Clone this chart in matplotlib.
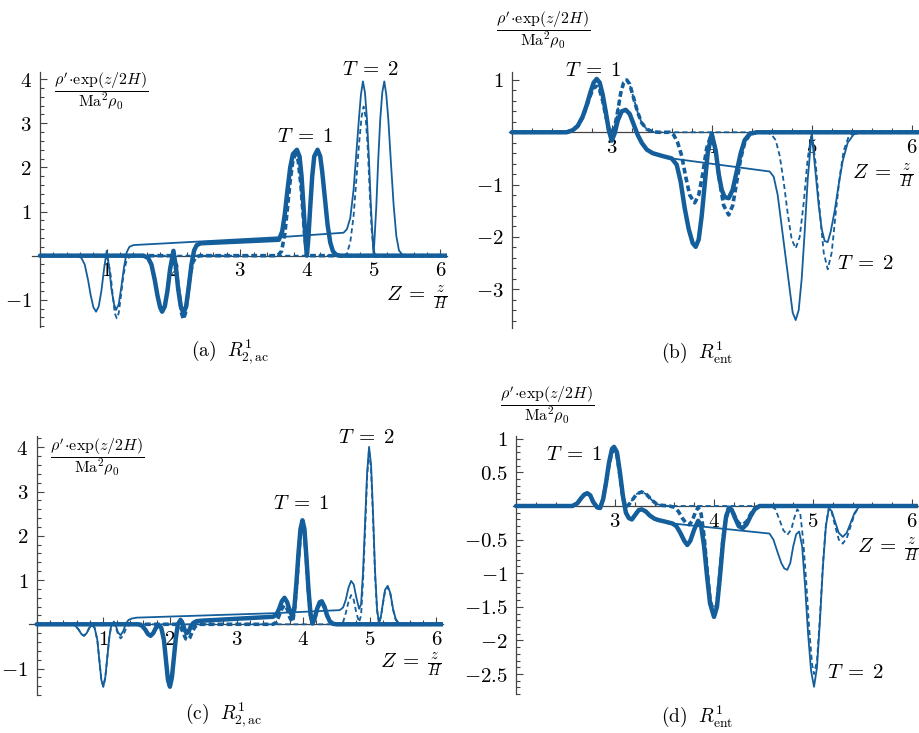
import matplotlib
matplotlib.use("Agg")
import matplotlib.pyplot as plt
from matplotlib.ticker import MultipleLocator

plt.rcParams['mathtext.fontset'] = 'cm'
plt.rcParams['font.family'] = 'serif'

blue = '#135e9b'

# ---- (a) R^1_{2,ac}, packets moving up ----
a_t1 = [(0, 0), (1.55, 0), (1.62, -0.05), (1.67, -0.2), (1.72, -0.55), (1.76, -0.9), (1.80, -1.17), (1.83, -1.27),
        (1.87, -1.15), (1.91, -0.8), (1.95, -0.3), (2.00, 0.11), (2.04, -0.3), (2.07, -0.75), (2.11, -1.15),
        (2.15, -1.31), (2.19, -1.15), (2.23, -0.7), (2.27, -0.2), (2.31, 0.12), (2.35, 0.24), (2.41, 0.28),
        (3.58, 0.36), (3.63, 0.55), (3.67, 0.95), (3.71, 1.5), (3.75, 2.0), (3.79, 2.3), (3.85, 2.4), (3.89, 2.25),
        (3.92, 1.8), (3.95, 1.1), (3.98, 0.35), (4.00, 0.0), (4.02, 0.35), (4.05, 1.1), (4.08, 1.8), (4.11, 2.25),
        (4.16, 2.4), (4.20, 2.25), (4.23, 1.9), (4.27, 1.3), (4.31, 0.7), (4.35, 0.3), (4.39, 0.1), (4.44, 0.02),
        (4.50, 0), (6.10, 0)]
a_t1w = [(0, 0), (1.97, 0), (2.01, -0.1), (2.05, -0.45), (2.09, -0.9), (2.12, -1.3), (2.15, -1.44), (2.18, -1.3),
         (2.21, -0.95), (2.25, -0.45), (2.29, -0.15), (2.34, -0.03), (2.40, 0), (3.56, 0), (3.62, 0.1), (3.67, 0.5),
         (3.71, 1.1), (3.75, 1.7), (3.79, 2.15), (3.83, 2.3), (3.87, 2.15), (3.91, 1.6), (3.94, 1.0), (3.97, 0.4),
         (4.00, 0.08), (4.03, 0), (6.10, 0)]
a_t2 = [(0, 0), (0.55, 0), (0.62, -0.05), (0.67, -0.2), (0.72, -0.55), (0.76, -0.9), (0.80, -1.17), (0.84, -1.27),
        (0.88, -1.15), (0.92, -0.8), (0.96, -0.3), (1.00, 0.11), (1.04, -0.3), (1.07, -0.75), (1.11, -1.1),
        (1.14, -1.23), (1.18, -1.1), (1.22, -0.7), (1.26, -0.25), (1.30, 0.08), (1.34, 0.2), (1.40, 0.24),
        (3.60, 0.42), (4.55, 0.52), (4.60, 0.6), (4.65, 0.85), (4.70, 1.5), (4.74, 2.3), (4.78, 3.1), (4.81, 3.65),
        (4.84, 3.95), (4.87, 3.7), (4.90, 3.1), (4.93, 2.2), (4.96, 1.1), (5.00, 0.0), (5.04, 1.1), (5.07, 2.2),
        (5.10, 3.1), (5.13, 3.7), (5.16, 3.95), (5.19, 3.65), (5.22, 3.1), (5.26, 2.1), (5.30, 1.15), (5.34, 0.45),
        (5.38, 0.12), (5.43, 0.02), (5.50, 0), (6.10, 0)]
a_t2w = [(0, 0), (0.98, 0), (1.02, -0.1), (1.06, -0.45), (1.09, -0.9), (1.12, -1.3), (1.15, -1.42), (1.18, -1.3),
         (1.21, -0.95), (1.25, -0.45), (1.29, -0.15), (1.34, -0.03), (1.40, 0), (4.55, 0), (4.60, 0.05), (4.65, 0.3),
         (4.70, 0.9), (4.74, 1.7), (4.78, 2.5), (4.82, 3.15), (4.85, 3.38), (4.88, 3.15), (4.91, 2.5), (4.94, 1.5),
         (4.97, 0.6), (5.00, 0.12), (5.03, 0), (6.10, 0)]

# ---- (b) R^1_ent ----
b_front = [(2.0, 0), (2.55, 0), (2.61, 0.04), (2.66, 0.12), (2.71, 0.3), (2.75, 0.52), (2.79, 0.78), (2.82, 0.95),
           (2.85, 1.02), (2.88, 0.95), (2.91, 0.72), (2.94, 0.4), (2.97, 0.05), (3.00, -0.16), (3.03, -0.02),
           (3.06, 0.22), (3.10, 0.4), (3.14, 0.43), (3.18, 0.35), (3.22, 0.15), (3.26, -0.05), (3.30, -0.2),
           (3.35, -0.33), (3.41, -0.4), (3.50, -0.45), (3.60, -0.5)]
b_t1 = b_front + [(3.65, -0.62), (3.69, -0.95), (3.73, -1.45), (3.77, -1.85), (3.81, -2.12), (3.84, -2.19),
                  (3.87, -2.05), (3.90, -1.6), (3.93, -1.0), (3.96, -0.4), (4.00, -0.03), (4.04, -0.35), (4.07, -0.8),
                  (4.10, -1.1), (4.13, -1.24), (4.17, -1.26), (4.21, -1.1), (4.25, -0.75), (4.29, -0.4),
                  (4.33, -0.15), (4.38, -0.03), (4.45, 0), (6.08, 0)]
b_t2 = b_front + [(4.58, -0.75), (4.62, -0.85), (4.66, -1.2), (4.70, -1.8), (4.74, -2.4), (4.78, -3.0), (4.81, -3.45),
                  (4.84, -3.59), (4.87, -3.4), (4.90, -2.8), (4.93, -1.9), (4.96, -0.9), (5.00, -0.02), (5.04, -0.8),
                  (5.07, -1.4), (5.10, -1.85), (5.13, -2.08), (5.16, -2.1), (5.19, -1.9), (5.23, -1.5), (5.27, -1.0),
                  (5.31, -0.55), (5.36, -0.2), (5.42, -0.04), (5.50, 0), (6.08, 0)]
b_front_w = [(2.0, 0), (2.55, 0), (2.61, 0.04), (2.66, 0.12), (2.71, 0.28), (2.75, 0.5), (2.79, 0.72), (2.82, 0.85),
             (2.85, 0.88), (2.88, 0.8), (2.91, 0.6), (2.94, 0.32), (2.97, 0.08), (3.00, 0.0), (3.03, 0.1), (3.06, 0.4),
             (3.09, 0.75), (3.12, 0.95), (3.15, 1.0), (3.18, 0.92), (3.22, 0.65), (3.26, 0.38), (3.30, 0.18),
             (3.35, 0.06), (3.41, 0.01), (3.47, 0)]
b_t1w = b_front_w + [(3.58, 0), (3.62, -0.05), (3.66, -0.2), (3.70, -0.45), (3.74, -0.85), (3.78, -1.2), (3.83, -1.35),
                     (3.87, -1.2), (3.91, -0.8), (3.95, -0.3), (4.00, -0.02), (4.04, -0.35), (4.08, -0.95),
                     (4.12, -1.4), (4.17, -1.58), (4.21, -1.4), (4.25, -0.95), (4.29, -0.5), (4.33, -0.2),
                     (4.38, -0.04), (4.45, 0), (6.08, 0)]
b_t2w = b_front_w + [(4.55, 0), (4.60, -0.05), (4.64, -0.15), (4.68, -0.45), (4.72, -0.95), (4.76, -1.55),
                     (4.80, -2.05), (4.84, -2.22), (4.88, -2.0), (4.92, -1.35), (4.96, -0.5), (5.00, -0.02),
                     (5.04, -0.6), (5.08, -1.5), (5.12, -2.3), (5.16, -2.62), (5.20, -2.3), (5.24, -1.55),
                     (5.28, -0.85), (5.32, -0.35), (5.37, -0.08), (5.43, 0), (6.08, 0)]

# ---- (c) R^1_{2,ac}, second case ----
c_t1 = [(0, 0), (1.52, 0), (1.58, -0.03), (1.63, -0.12), (1.67, -0.22), (1.71, -0.26), (1.75, -0.2), (1.79, -0.08),
        (1.83, -0.02), (1.87, -0.08), (1.91, -0.35), (1.94, -0.8), (1.97, -1.25), (2.00, -1.41), (2.03, -1.2),
        (2.06, -0.75), (2.09, -0.3), (2.12, 0.0), (2.16, 0.1), (2.19, 0.02), (2.22, -0.12), (2.25, -0.2),
        (2.28, -0.17), (2.31, -0.06), (2.35, 0.03), (2.40, 0.07), (2.46, 0.08), (3.55, 0.17), (3.60, 0.22),
        (3.64, 0.35), (3.68, 0.52), (3.72, 0.6), (3.76, 0.5), (3.80, 0.3), (3.84, 0.18), (3.87, 0.4), (3.90, 0.95),
        (3.93, 1.6), (3.96, 2.15), (3.99, 2.35), (4.02, 2.15), (4.05, 1.5), (4.08, 0.8), (4.11, 0.25), (4.14, 0.02),
        (4.17, 0.12), (4.21, 0.35), (4.25, 0.5), (4.28, 0.52), (4.32, 0.4), (4.36, 0.2), (4.40, 0.07), (4.45, 0.01),
        (4.50, 0), (6.10, 0)]
c_t1w = [(0, 0), (2.12, 0), (2.16, -0.05), (2.20, -0.2), (2.24, -0.33), (2.27, -0.35), (2.30, -0.3), (2.34, -0.15),
         (2.38, -0.05), (2.43, 0), (3.55, 0), (3.60, 0.05), (3.64, 0.2), (3.68, 0.35), (3.72, 0.43), (3.76, 0.35),
         (3.80, 0.15), (3.84, 0.05), (3.87, 0.3), (3.90, 0.85), (3.93, 1.5), (3.96, 2.05), (3.99, 2.3), (4.02, 2.1),
         (4.05, 1.45), (4.08, 0.75), (4.11, 0.2), (4.14, 0.02), (4.17, 0.1), (4.21, 0.33), (4.25, 0.48), (4.28, 0.5),
         (4.32, 0.38), (4.36, 0.19), (4.40, 0.06), (4.45, 0.01), (4.50, 0), (6.10, 0)]
c_front = [(0, 0), (0.52, 0), (0.58, -0.03), (0.63, -0.12), (0.67, -0.22), (0.71, -0.26), (0.75, -0.2), (0.79, -0.08),
           (0.83, -0.02), (0.87, -0.08), (0.91, -0.35), (0.94, -0.8), (0.97, -1.25), (1.00, -1.41), (1.03, -1.2),
           (1.06, -0.75), (1.09, -0.3), (1.12, -0.02)]
c_t2 = c_front + [(1.16, 0.06), (1.19, -0.04), (1.22, -0.18), (1.26, -0.25), (1.30, -0.15), (1.34, 0.02), (1.38, 0.1),
                  (1.43, 0.13), (1.50, 0.15), (3.55, 0.25), (4.55, 0.32), (4.60, 0.38), (4.64, 0.55), (4.68, 0.82),
                  (4.72, 0.98), (4.76, 0.9), (4.80, 0.6), (4.84, 0.35), (4.87, 0.45), (4.90, 1.2), (4.93, 2.3),
                  (4.96, 3.4), (4.99, 4.01), (5.02, 3.6), (5.05, 2.5), (5.08, 1.2), (5.11, 0.35), (5.14, 0.02),
                  (5.17, 0.2), (5.20, 0.5), (5.23, 0.78), (5.27, 0.87), (5.31, 0.7), (5.35, 0.35), (5.39, 0.12),
                  (5.44, 0.02), (5.50, 0), (6.10, 0)]
c_t2w = c_front + [(1.16, 0.0), (1.19, -0.08), (1.22, -0.22), (1.26, -0.32), (1.30, -0.25), (1.34, -0.1),
                   (1.38, -0.02), (1.43, 0), (4.55, 0), (4.60, 0.05), (4.64, 0.25), (4.68, 0.5), (4.72, 0.66),
                   (4.76, 0.55), (4.80, 0.25), (4.84, 0.05), (4.87, 0.2), (4.90, 1.0), (4.93, 2.1), (4.96, 3.3),
                   (4.99, 3.95), (5.02, 3.5), (5.05, 2.4), (5.08, 1.1), (5.11, 0.3), (5.14, 0.02), (5.17, 0.18),
                   (5.20, 0.48), (5.23, 0.75), (5.27, 0.84), (5.31, 0.68), (5.35, 0.33), (5.39, 0.1), (5.44, 0.01),
                   (5.50, 0), (6.10, 0)]

# ---- (d) R^1_ent, second case ----
d_front = [(2.0, 0), (2.57, 0), (2.62, 0.04), (2.66, 0.12), (2.69, 0.17), (2.72, 0.19), (2.75, 0.16), (2.78, 0.06),
           (2.82, -0.02), (2.85, -0.03), (2.88, 0.1), (2.91, 0.35), (2.94, 0.65), (2.97, 0.85), (2.99, 0.88),
           (3.02, 0.8), (3.05, 0.5), (3.08, 0.15), (3.11, -0.1), (3.14, -0.18), (3.17, -0.2), (3.21, -0.12),
           (3.24, -0.06), (3.27, -0.05), (3.31, -0.08), (3.35, -0.14), (3.40, -0.19), (3.44, -0.21), (3.50, -0.23),
           (3.58, -0.26)]
d_t1 = d_front + [(3.62, -0.3), (3.66, -0.4), (3.70, -0.52), (3.73, -0.58), (3.76, -0.52), (3.80, -0.35),
                  (3.84, -0.22), (3.87, -0.3), (3.90, -0.6), (3.93, -1.05), (3.96, -1.45), (4.00, -1.65),
                  (4.03, -1.5), (4.06, -1.05), (4.09, -0.55), (4.12, -0.18), (4.15, -0.03), (4.18, -0.06),
                  (4.21, -0.17), (4.25, -0.3), (4.29, -0.33), (4.33, -0.27), (4.37, -0.15), (4.41, -0.05),
                  (4.46, 0), (6.06, 0)]
d_t2 = d_front + [(4.56, -0.41), (4.60, -0.5), (4.64, -0.68), (4.68, -0.85), (4.71, -0.93), (4.74, -0.95),
                  (4.77, -0.85), (4.80, -0.6), (4.83, -0.42), (4.86, -0.38), (4.89, -0.6), (4.92, -1.2), (4.95, -1.9),
                  (4.98, -2.45), (5.01, -2.69), (5.04, -2.4), (5.07, -1.7), (5.10, -0.9), (5.13, -0.3), (5.16, -0.03),
                  (5.19, -0.08), (5.22, -0.22), (5.26, -0.4), (5.30, -0.46), (5.34, -0.4), (5.38, -0.25),
                  (5.42, -0.1), (5.46, -0.02), (5.50, 0), (6.06, 0)]
d_front_w = [(2.0, 0), (2.57, 0), (2.62, 0.04), (2.66, 0.12), (2.69, 0.17), (2.72, 0.19), (2.75, 0.16), (2.78, 0.06),
             (2.82, -0.02), (2.85, -0.03), (2.88, 0.1), (2.91, 0.35), (2.94, 0.62), (2.97, 0.8), (2.99, 0.84),
             (3.02, 0.75), (3.05, 0.45), (3.08, 0.12), (3.11, -0.01), (3.14, 0.02), (3.18, 0.1), (3.22, 0.18),
             (3.27, 0.21), (3.32, 0.17), (3.37, 0.09), (3.42, 0.03), (3.47, 0.01), (3.55, 0)]
d_t1w = d_front_w + [(3.60, -0.02), (3.64, -0.08), (3.68, -0.18), (3.72, -0.26), (3.75, -0.28), (3.78, -0.22),
                     (3.81, -0.1), (3.84, -0.02), (3.87, -0.12), (3.90, -0.45), (3.93, -0.95), (3.96, -1.4),
                     (4.00, -1.6), (4.03, -1.45), (4.06, -1.0), (4.09, -0.5), (4.12, -0.15), (4.15, -0.02),
                     (4.18, -0.05), (4.21, -0.15), (4.25, -0.26), (4.29, -0.28), (4.33, -0.23), (4.37, -0.12),
                     (4.41, -0.04), (4.46, 0), (6.06, 0)]
d_t2w = d_front_w + [(4.58, 0), (4.62, -0.05), (4.66, -0.2), (4.70, -0.36), (4.74, -0.43), (4.78, -0.35),
                     (4.81, -0.18), (4.84, -0.05), (4.87, -0.1), (4.90, -0.5), (4.93, -1.1), (4.96, -1.8),
                     (4.99, -2.35), (5.01, -2.5), (5.04, -2.3), (5.07, -1.65), (5.10, -0.85), (5.13, -0.28),
                     (5.16, -0.03), (5.19, -0.1), (5.22, -0.28), (5.26, -0.5), (5.30, -0.56), (5.34, -0.48),
                     (5.38, -0.3), (5.42, -0.12), (5.46, -0.02), (5.50, 0), (6.06, 0)]

# ticks
x_ticks_full = [1, 2, 3, 4, 5, 6]
x_ticks_half = [3, 4, 5, 6]
y_ticks_ac = [-1, 1, 2, 3, 4]
y_ticks_b = [-3, -2, -1, 1]
y_ticks_d = [-2.5, -2, -1.5, -1, -0.5, 0.5, 1]
y_labels_d = ['$-2.5$', '$-2$', '$-1.5$', '$-1$', '$-0.5$', '$0.5$', '$1$']

captions = [r'$\mathrm{(a)}\ \ R^1_{2,\mathrm{ac}}$', r'$\mathrm{(b)}\ \ R^1_{\mathrm{ent}}$',
            r'$\mathrm{(c)}\ \ R^1_{2,\mathrm{ac}}$', r'$\mathrm{(d)}\ \ R^1_{\mathrm{ent}}$']

ylab = r'$\dfrac{\rho^{\prime}\!\cdot\!\exp(z/2H)}{\mathrm{Ma}^2\rho_0}$'
xlab = r'$Z\;=\;\frac{z}{H}$'
t1_lab = r'$T\;=\;1$'
t2_lab = r'$T\;=\;2$'

W, H = 920, 733
fig = plt.figure(figsize=(W / 100, H / 100), dpi=100)


def make_axes(left, right, top, bottom):
    # pixel box -> figure fraction
    return fig.add_axes([left / W, 1 - bottom / H, (right - left) / W, (bottom - top) / H])


def draw(ax, t1, t1w, t2, t2w, x0, xlim, ylim, xt, yt, ylabels, yminor):
    for pts, lw, ls, z in [(t2, 1.3, '-', 3), (t2w, 1.3, (0, (2.8, 1.8)), 4),
                           (t1, 3.2, '-', 5), (t1w, 2.6, (0, (1.6, 0.9)), 6)]:
        xs, ys = zip(*pts)
        ax.plot(xs, ys, color=blue, lw=lw, ls=ls, zorder=z, solid_capstyle='round')
    ax.set_xlim(*xlim)
    ax.set_ylim(*ylim)
    for s in ['top', 'right']:
        ax.spines[s].set_visible(False)
    ax.spines['left'].set_position(('data', x0))
    ax.spines['bottom'].set_position(('data', 0))
    for s in ['left', 'bottom']:
        ax.spines[s].set_color('#444444')
        ax.spines[s].set_linewidth(0.9)
    ax.set_xticks(xt, ['$%d$' % v for v in xt])
    ax.set_yticks(yt, ylabels)
    ax.xaxis.set_minor_locator(MultipleLocator(0.2))
    ax.yaxis.set_minor_locator(MultipleLocator(yminor))
    ax.tick_params(which='both', direction='in', color='#444444', width=0.8, labelsize=15)
    ax.tick_params(which='major', length=5)
    ax.tick_params(which='minor', length=3)
    ax.tick_params(axis='y', pad=6)
    ax.tick_params(axis='x', pad=4)
    ax.patch.set_visible(False)


ax_a = make_axes(32, 447, 71.7, 326.7)
draw(ax_a, a_t1, a_t1w, a_t2, a_t2w, 0, (-0.12, 6.1), (-1.61, 4.17), x_ticks_full, y_ticks_ac,
     ['$%d$' % v for v in y_ticks_ac], 0.2)
ax_a.text(3.97, 2.69, t1_lab, fontsize=15, ha='center', va='center')
ax_a.text(4.95, 4.21, t2_lab, fontsize=15, ha='center', va='center', clip_on=False)
ax_a.text(6.12, -0.96, xlab, fontsize=15, ha='right', va='center')
ax_a.text(0.91, 3.73, ylab, fontsize=11.5, ha='center', va='center')

ax_b = make_axes(508.7, 919.7, 71.6, 327.9)
draw(ax_b, b_t1, b_t1w, b_t2, b_t2w, 2, (1.97, 6.08), (-3.74, 1.16), x_ticks_half, y_ticks_b,
     ['$%d$' % v for v in y_ticks_b], 0.2)
ax_b.text(2.82, 1.19, t1_lab, fontsize=15, ha='center', va='center', clip_on=False)
ax_b.text(5.54, -2.5, t2_lab, fontsize=15, ha='center', va='center')
ax_b.text(6.03, -0.84, xlab, fontsize=15, ha='right', va='center')
ax_b.text(2.31, 1.96, ylab, fontsize=11.5, ha='center', va='center', clip_on=False)

ax_c = make_axes(28.7, 443, 436.2, 695.1)
draw(ax_c, c_t1, c_t1w, c_t2, c_t2w, 0, (-0.12, 6.1), (-1.6, 4.25), x_ticks_full, y_ticks_ac,
     ['$%d$' % v for v in y_ticks_ac], 0.2)
ax_c.text(3.97, 2.74, t1_lab, fontsize=15, ha='center', va='center')
ax_c.text(4.96, 4.23, t2_lab, fontsize=15, ha='center', va='center', clip_on=False)
ax_c.text(6.1, -0.92, xlab, fontsize=15, ha='right', va='center')
ax_c.text(0.91, 3.79, ylab, fontsize=11.5, ha='center', va='center')

ax_d = make_axes(513, 918, 436.1, 694.2)
draw(ax_d, d_t1, d_t1w, d_t2, d_t2w, 2, (1.97, 6.06), (-2.8, 1.04), x_ticks_half, y_ticks_d, y_labels_d, 0.1)
ax_d.text(2.59, 0.77, t1_lab, fontsize=15, ha='center', va='center')
ax_d.text(5.43, -2.47, t2_lab, fontsize=15, ha='center', va='center')
ax_d.text(6.08, -0.65, xlab, fontsize=15, ha='right', va='center', clip_on=False)
ax_d.text(2.32, 1.50, ylab, fontsize=11.5, ha='center', va='center', clip_on=False)

for (px, py), cap in zip([(230, 352), (697, 352), (224, 715), (697, 716)], captions):
    fig.text(px / W, 1 - py / H, cap, fontsize=14, ha='center', va='center')

fig.savefig('out.png', dpi=100)
